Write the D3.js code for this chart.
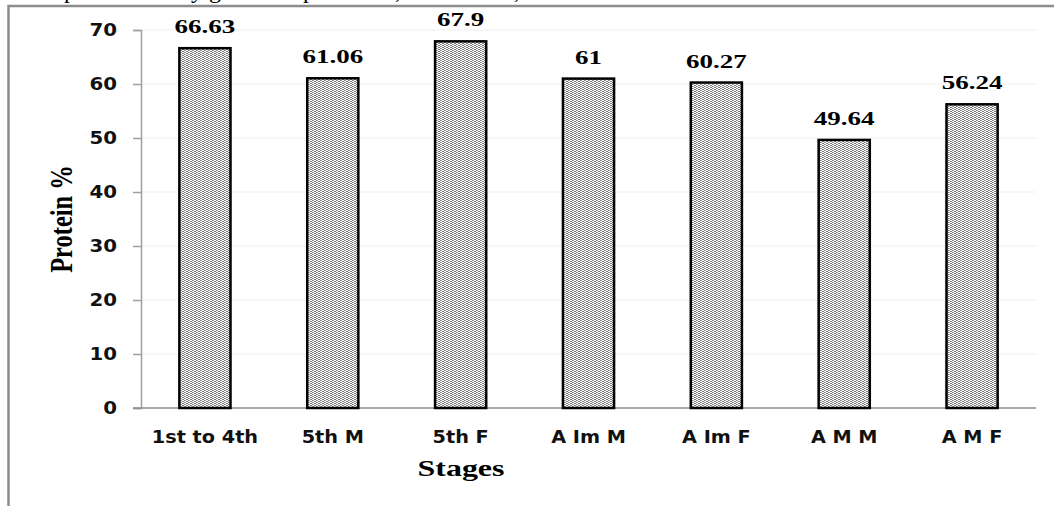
<!DOCTYPE html>
<html>
<head>
<meta charset="utf-8">
<script src="https://cdn.jsdelivr.net/npm/d3@7/dist/d3.min.js"></script>
<style>
  html, body { margin: 0; padding: 0; background: #fff; }
  svg { display: block; }
</style>
</head>
<body>
<svg id="chart" width="1054" height="506"></svg>
<script>
// ---- data ----
const categories = ["1st to 4th", "5th M", "5th F", "A Im M", "A Im F", "A M M", "A M F"];
const proteinValues = [66.63, 61.06, 67.9, 61, 60.27, 49.64, 56.24];
const valueLabels = ["66.63", "61.06", "67.9", "61", "60.27", "49.64", "56.24"];
const yTickValues = [0, 10, 20, 30, 40, 50, 60, 70];
const yAxisTitle = "Protein %";
const xAxisTitle = "Stages";
const captionPieces = [["p", 64], ["y", 191], ["g", 209], ["p", 303], [",", 395], [",", 514]];

// ---- layout ----
const svg = d3.select("#chart");
const plot = { left: 141, right: 1036, top: 30, bottom: 408 };

function stretch(sel, k) {
  sel.each(function () {
    const w = this.getComputedTextLength();
    d3.select(this).attr("textLength", w * k).attr("lengthAdjust", "spacingAndGlyphs");
  });
}

// pattern fill for bars
const defs = svg.append("defs");
const pat = defs.append("pattern")
  .attr("id", "dots").attr("patternUnits", "userSpaceOnUse")
  .attr("width", 4).attr("height", 2);
pat.append("rect").attr("width", 4).attr("height", 2).attr("fill", "#ffffff");
pat.append("rect").attr("x", 0).attr("y", 0).attr("width", 2).attr("height", 1).attr("fill", "#7a7a7a");
pat.append("rect").attr("x", 2).attr("y", 1).attr("width", 2).attr("height", 1).attr("fill", "#7a7a7a");
pat.append("rect").attr("x", 1).attr("y", 0).attr("width", 1).attr("height", 2).attr("fill", "#ffffff").attr("opacity", 0.35);

// clipped caption line from the page above
const cap = svg.append("text")
  .attr("y", -2)
  .attr("font-family", "'Liberation Serif', 'Times New Roman', serif")
  .attr("font-size", 24)
  .attr("fill", "#000");
captionPieces.forEach(([ch, x]) => cap.append("tspan").attr("x", x).text(ch));

// outer frame
svg.append("rect")
  .attr("x", 8.5).attr("y", 6).attr("width", 1100).attr("height", 600)
  .attr("fill", "none").attr("stroke", "#8c8c8c").attr("stroke-width", 2.5);

// scales
const x = d3.scaleBand()
  .domain(categories)
  .range([plot.left, plot.right])
  .paddingInner(0.6)
  .paddingOuter(0.3);

const y = d3.scaleLinear()
  .domain([0, 70])
  .range([plot.bottom, plot.top]);

// gridlines
svg.append("g")
  .selectAll("line")
  .data(yTickValues.filter(d => d > 0))
  .join("line")
  .attr("x1", plot.left).attr("x2", plot.right)
  .attr("y1", d => y(d)).attr("y2", d => y(d))
  .attr("stroke", "#efefef").attr("stroke-width", 1);

// y axis
const yAxis = svg.append("g")
  .attr("transform", `translate(${plot.left},0)`)
  .call(d3.axisLeft(y).tickValues(yTickValues).tickSize(8).tickPadding(16).tickFormat(d3.format("d")));
yAxis.select(".domain").attr("stroke", "#a0a0a0").attr("stroke-width", 1.5);
yAxis.selectAll(".tick line").attr("stroke", "#a0a0a0").attr("stroke-width", 1.5);
yAxis.selectAll(".tick text")
  .attr("font-family", "'DejaVu Sans', Verdana, sans-serif")
  .attr("font-weight", "bold")
  .attr("font-size", 18)
  .attr("fill", "#111")
  .call(stretch, 1.1);

// x axis
const xAxis = svg.append("g")
  .attr("transform", `translate(0,${plot.bottom})`)
  .call(d3.axisBottom(x).tickSize(0).tickPadding(0));
xAxis.select(".domain").remove();
xAxis.append("line")
  .attr("x1", plot.left - 8).attr("x2", plot.right)
  .attr("y1", 0).attr("y2", 0)
  .attr("stroke", "#8c8c8c").attr("stroke-width", 1.5);
xAxis.selectAll(".tick text")
  .attr("y", 35).attr("dy", 0)
  .attr("font-family", "'DejaVu Sans', Verdana, sans-serif")
  .attr("font-weight", "bold")
  .attr("font-size", 18)
  .attr("fill", "#111")
  .call(stretch, 1.07);

// bars
svg.append("g")
  .selectAll("rect")
  .data(categories)
  .join("rect")
  .attr("x", d => x(d))
  .attr("width", x.bandwidth())
  .attr("y", (d, i) => y(proteinValues[i]))
  .attr("height", (d, i) => y(0) - y(proteinValues[i]))
  .attr("fill", "url(#dots)")
  .attr("stroke", "#000")
  .attr("stroke-width", 2.5);

// value labels
svg.append("g")
  .selectAll("text")
  .data(categories)
  .join("text")
  .attr("x", d => x(d) + x.bandwidth() / 2)
  .attr("y", (d, i) => y(proteinValues[i]) - 15)
  .attr("text-anchor", "middle")
  .attr("font-family", "'Liberation Serif', 'Times New Roman', serif")
  .attr("font-weight", "bold")
  .attr("font-size", 18)
  .attr("fill", "#000")
  .text((d, i) => valueLabels[i])
  .call(stretch, 1.5);

// axis titles
svg.append("text")
  .attr("transform", "translate(72,219) rotate(-90)")
  .attr("text-anchor", "middle")
  .attr("font-family", "'Liberation Serif', 'Times New Roman', serif")
  .attr("font-weight", "bold")
  .attr("font-size", 31)
  .attr("fill", "#000")
  .text(yAxisTitle)
  .call(stretch, 0.79);

svg.append("text")
  .attr("x", 461).attr("y", 476)
  .attr("text-anchor", "middle")
  .attr("font-family", "'Liberation Serif', 'Times New Roman', serif")
  .attr("font-weight", "bold")
  .attr("font-size", 23)
  .attr("fill", "#000")
  .text(xAxisTitle)
  .call(stretch, 1.39);
</script>
</body>
</html>
